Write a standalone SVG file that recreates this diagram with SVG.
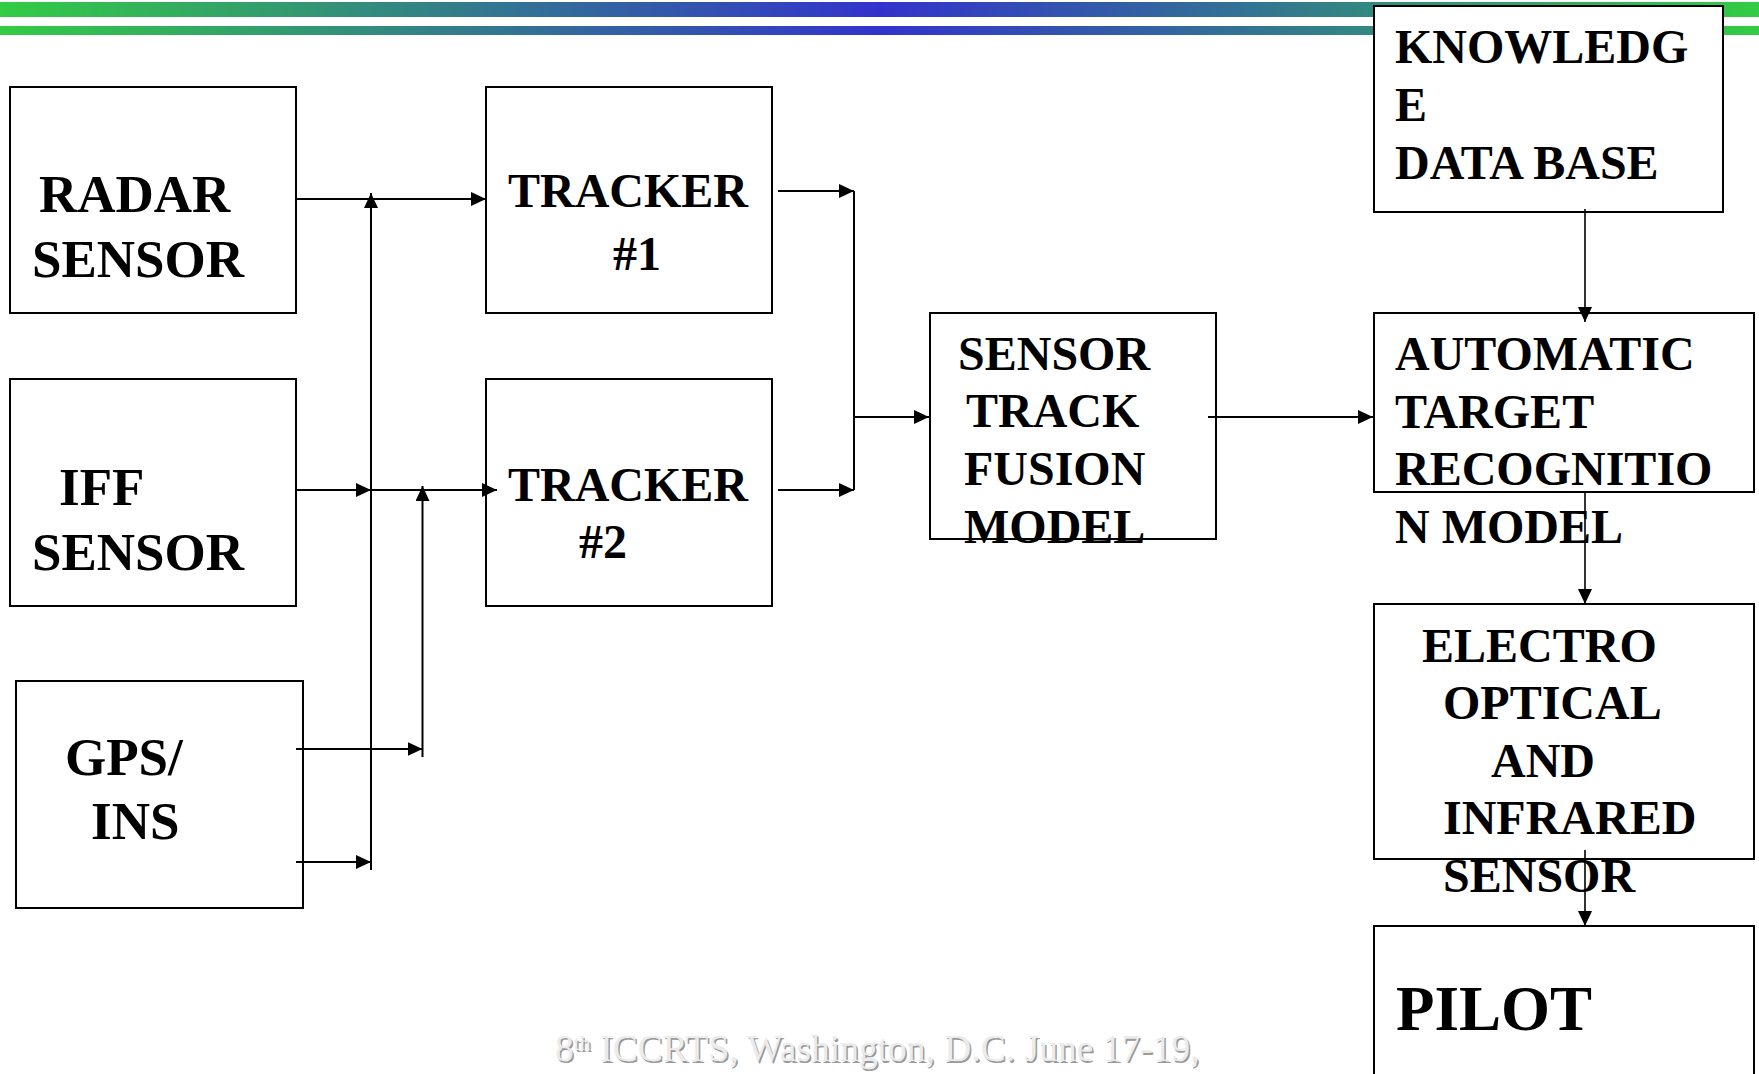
<svg xmlns="http://www.w3.org/2000/svg" width="1759" height="1074" viewBox="0 0 1759 1074">
<style>
.box{fill:#fff;stroke:#000;stroke-width:2}
.t{font-family:"Liberation Serif","Times New Roman",serif;font-weight:bold;font-size:48px;fill:#000}
.big{font-size:53px}
.pil{font-size:63px}
.ln{fill:none;stroke:#000;stroke-width:2}
.thin{stroke-width:1.6}
.arr{marker-end:url(#ah)}
.ft{font-family:"Liberation Serif","Times New Roman",serif;font-size:37.5px}
</style>
<defs>
<linearGradient id="bar" gradientUnits="userSpaceOnUse" x1="0" y1="0" x2="1759" y2="0">
<stop offset="0" stop-color="#33CC44"/>
<stop offset="0.5" stop-color="#3333CC"/>
<stop offset="1" stop-color="#33CC44"/>
</linearGradient>
<marker id="ah" markerUnits="userSpaceOnUse" markerWidth="15" markerHeight="14" viewBox="0 0 15 14" refX="15" refY="7" orient="auto">
<path d="M0,0 L15,7 L0,14 z" fill="#000"/>
</marker>
</defs>
<rect width="1759" height="1074" fill="#fff"/>
<g id="header">
<rect x="0" y="2" width="1759" height="15" fill="url(#bar)"/>
<rect x="0" y="26" width="1759" height="9" fill="url(#bar)"/>
</g>
<g id="footer">
<text class="ft" x="556.5" y="1062.5" fill="#9a9a9a">8<tspan font-size="22" dy="-11">th</tspan><tspan dy="11"> ICCRTS, Washington, D.C. June 17-19,</tspan></text>
<text class="ft" x="555" y="1061" fill="#ebebeb">8<tspan font-size="22" dy="-11">th</tspan><tspan dy="11"> ICCRTS, Washington, D.C. June 17-19,</tspan></text>
</g>
<g id="radar">
<rect class="box" x="10" y="87" width="286" height="226"/>
<text class="t big" x="39" y="212">RADAR</text>
<text class="t big" x="32" y="277">SENSOR</text>
</g>
<g id="iff">
<rect class="box" x="10" y="379" width="286" height="227"/>
<text class="t big" x="59" y="505">IFF</text>
<text class="t big" x="32" y="570">SENSOR</text>
</g>
<g id="gps">
<rect class="box" x="16" y="681" width="287" height="227"/>
<text class="t big" x="65" y="775">GPS/</text>
<text class="t big" x="91" y="839">INS</text>
</g>
<g id="tracker1">
<rect class="box" x="486" y="87" width="286" height="226"/>
<text class="t" x="508" y="207">TRACKER</text>
<text class="t" x="613" y="270">#1</text>
</g>
<g id="tracker2">
<rect class="box" x="486" y="379" width="286" height="227"/>
<text class="t" x="508" y="501">TRACKER</text>
<text class="t" x="579" y="558">#2</text>
</g>
<g id="fusion">
<rect class="box" x="930" y="313" width="286" height="226"/>
<text class="t" x="958" y="370">SENSOR</text>
<text class="t" x="966" y="427">TRACK</text>
<text class="t" x="964" y="485">FUSION</text>
<text class="t" x="964" y="543">MODEL</text>
</g>
<g id="knowledge">
<rect class="box" x="1374" y="6" width="349" height="206"/>
<text class="t" x="1395" y="63">KNOWLEDG</text>
<text class="t" x="1395" y="121">E</text>
<text class="t" x="1395" y="179">DATA BASE</text>
</g>
<g id="atr">
<rect class="box" x="1374" y="313" width="380" height="179"/>
<text class="t" x="1395" y="370">AUTOMATIC</text>
<text class="t" x="1395" y="428">TARGET</text>
<text class="t" x="1395" y="485">RECOGNITIO</text>
<text class="t" x="1395" y="543">N MODEL</text>
</g>
<g id="eo">
<rect class="box" x="1374" y="604" width="380" height="255"/>
<text class="t" x="1422" y="662">ELECTRO</text>
<text class="t" x="1443" y="719">OPTICAL</text>
<text class="t" x="1491" y="777">AND</text>
<text class="t" x="1443" y="834">INFRARED</text>
<text class="t" x="1443" y="892">SENSOR</text>
</g>
<g id="pilot">
<rect class="box" x="1374" y="926" width="380" height="170"/>
<text class="t pil" x="1396" y="1030">PILOT</text>
</g>
<g id="connectors">
<path class="ln arr" d="M296,199 H486"/>
<path class="ln arr" d="M371,870 V193"/>
<path class="ln arr" d="M296,490 H371"/>
<path class="ln arr" d="M371,490 H497"/>
<path class="ln arr" d="M422.5,757 V486"/>
<path class="ln arr" d="M296,749 H422.5"/>
<path class="ln arr" d="M296,862 H371"/>
<path class="ln arr" d="M778,191 H854"/>
<path class="ln arr" d="M778,490 H854"/>
<path class="ln" d="M854,191 V490"/>
<path class="ln arr" d="M854,417 H929"/>
<path class="ln arr" d="M1208,417 H1373"/>
<path class="ln thin arr" d="M1585,209 V322"/>
<path class="ln thin arr" d="M1585,493 V604"/>
<path class="ln thin arr" d="M1585,850 V926"/>
</g>
</svg>
